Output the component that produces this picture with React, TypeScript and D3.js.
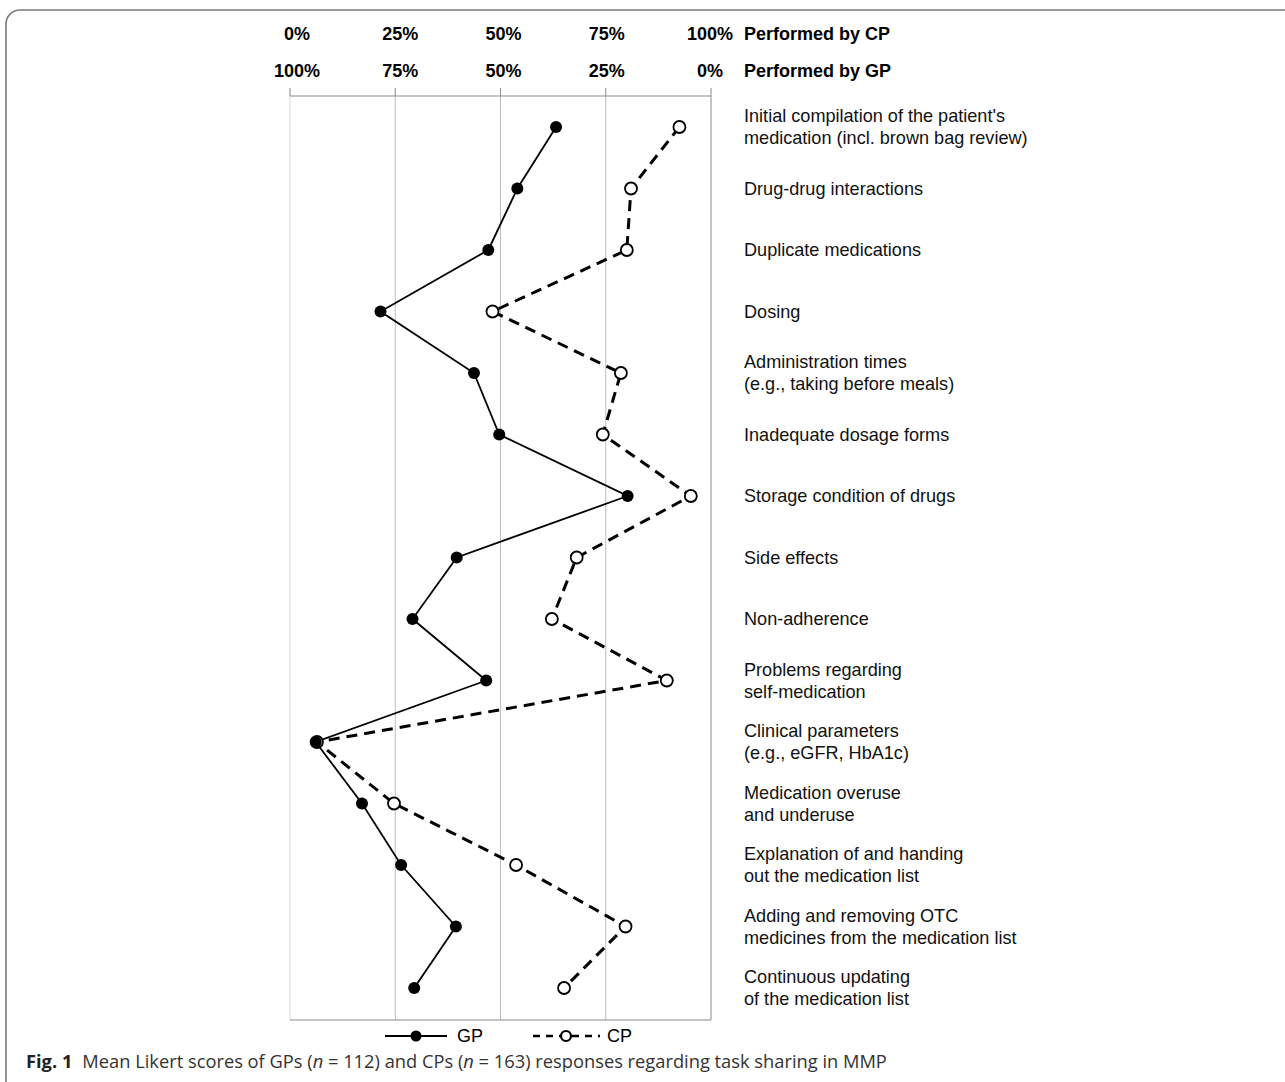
import * as d3 from 'd3';

// tasks (top to bottom), "\n" marks a line break in the label
const tasks = [
  "Initial compilation of the patient's\nmedication (incl. brown bag review)",
  'Drug-drug interactions',
  'Duplicate medications',
  'Dosing',
  'Administration times\n(e.g., taking before meals)',
  'Inadequate dosage forms',
  'Storage condition of drugs',
  'Side effects',
  'Non-adherence',
  'Problems regarding\nself-medication',
  'Clinical parameters\n(e.g., eGFR, HbA1c)',
  'Medication overuse\nand underuse',
  'Explanation of and handing\nout the medication list',
  'Adding and removing OTC\nmedicines from the medication list',
  'Continuous updating\nof the medication list',
];

// share "performed by CP" in %
const gpValues = [63.2, 54.0, 47.1, 21.5, 43.7, 49.7, 80.2, 39.6, 29.1, 46.6, 6.1, 17.1, 26.4, 39.4, 29.5];
const cpValues = [92.5, 81.0, 80.0, 48.1, 78.6, 74.3, 95.2, 68.1, 62.2, 89.5, 6.4, 24.7, 53.7, 79.7, 65.1];

const cpTicks = ['0%', '25%', '50%', '75%', '100%'];
const gpTicks = ['100%', '75%', '50%', '25%', '0%'];
const gridValues = [0, 25, 50, 75, 100];

const W = 1285;
const H = 1082;
const FONT = '"Liberation Sans", Arial, sans-serif';

export default function App() {
  const x = d3.scaleLinear().domain([0, 100]).range([290, 711]);
  const y = d3.scalePoint<number>().domain(d3.range(tasks.length)).range([127, 988]);
  // header labels sit slightly inside the outer gridlines
  const xHead = d3.scaleLinear().domain([0, 100]).range([297, 710]);

  const top = 96;
  const bottom = 1020;

  const line = d3
    .line<number>()
    .x((d) => x(d))
    .y((_, i) => y(i) as number);

  return (
    <svg
      width={W}
      height={H}
      style={{ position: 'absolute', left: 0, top: 0, background: '#fff' }}
      fontFamily={FONT}
    >
      {/* outer frame */}
      <rect x={6} y={10} width={1320} height={1100} rx={14} fill="none" stroke="#7a7a7a" strokeWidth={1.6} />

      {/* header tick labels */}
      {cpTicks.map((t, i) => (
        <text key={'c' + t} x={xHead(gridValues[i])} y={40} textAnchor="middle" fontSize={18} fontWeight="bold">
          {t}
        </text>
      ))}
      {gpTicks.map((t, i) => (
        <text key={'g' + t} x={xHead(gridValues[i])} y={77} textAnchor="middle" fontSize={18} fontWeight="bold">
          {t}
        </text>
      ))}
      <text x={744} y={40} fontSize={18} fontWeight="bold">Performed by CP</text>
      <text x={744} y={77} fontSize={18} fontWeight="bold">Performed by GP</text>

      {/* grid */}
      {gridValues.map((v, i) => (
        <line
          key={v}
          x1={x(v)}
          x2={x(v)}
          y1={top}
          y2={bottom}
          stroke={i === 0 ? '#d8d8d8' : i === 4 ? '#8a8a8a' : '#bdbdbd'}
          strokeWidth={1}
        />
      ))}
      {gridValues.map((v) => (
        <line key={'t' + v} x1={x(v)} x2={x(v)} y1={top - 8} y2={top} stroke="#8a8a8a" strokeWidth={1} />
      ))}
      <line x1={x(0)} x2={x(100)} y1={top} y2={top} stroke="#8a8a8a" strokeWidth={1.2} />
      <line x1={x(0)} x2={x(100)} y1={bottom} y2={bottom} stroke="#8a8a8a" strokeWidth={1.2} />

      {/* series lines */}
      <path d={line(gpValues) ?? ''} fill="none" stroke="#000" strokeWidth={1.8} />
      <path d={line(cpValues) ?? ''} fill="none" stroke="#000" strokeWidth={3} strokeDasharray="11,7" />

      {/* markers */}
      {cpValues.map((v, i) => (
        <circle key={'cp' + i} cx={x(v)} cy={y(i)} r={6} fill="#fff" stroke="#000" strokeWidth={1.8} />
      ))}
      {gpValues.map((v, i) => (
        <circle key={'gp' + i} cx={x(v)} cy={y(i)} r={6} fill="#000" />
      ))}

      {/* task labels */}
      {tasks.map((t, i) => {
        const parts = t.split('\n');
        const cy = y(i) as number;
        return (
          <text key={t} x={744} fontSize={18.1} fill="#111">
            {parts.map((p, j) => (
              <tspan key={j} x={744} y={cy + 6 + (j - (parts.length - 1) / 2) * 22}>
                {p}
              </tspan>
            ))}
          </text>
        );
      })}

      {/* legend */}
      <line x1={385} x2={447} y1={1036} y2={1036} stroke="#000" strokeWidth={1.8} />
      <circle cx={416} cy={1036} r={5.5} fill="#000" />
      <text x={457} y={1042} fontSize={18}>GP</text>
      <line x1={533} x2={600} y1={1036} y2={1036} stroke="#000" strokeWidth={2.4} strokeDasharray="7,6" />
      <circle cx={566} cy={1036} r={5} fill="#fff" stroke="#000" strokeWidth={2.2} />
      <text x={607} y={1042} fontSize={18}>CP</text>

      {/* caption */}
      <text x={26} y={1068} fontSize={18.3} fontFamily='"Open Sans", "Noto Sans", sans-serif' fill="#333">
        <tspan fontWeight="bold" fill="#222">Fig. 1</tspan>
        <tspan dx={10}>Mean Likert scores of GPs (</tspan>
        <tspan fontStyle="italic">n</tspan>
        <tspan>{' = 112) and CPs ('}</tspan>
        <tspan fontStyle="italic">n</tspan>
        <tspan>{' = 163) responses regarding task sharing in MMP'}</tspan>
      </text>
    </svg>
  );
}
